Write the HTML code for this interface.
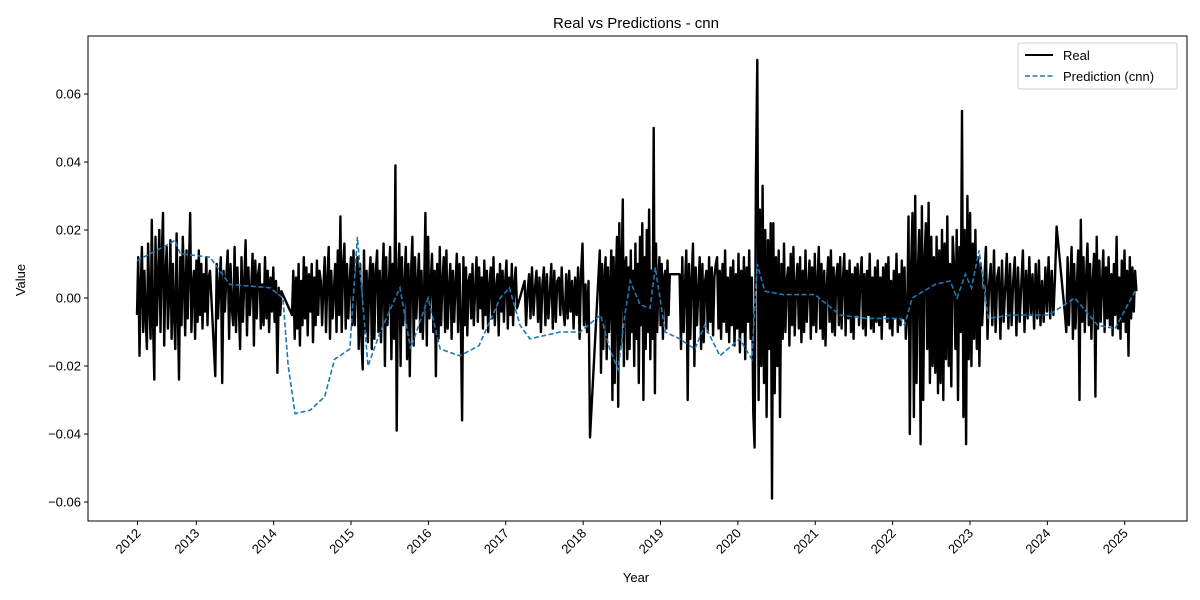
<!DOCTYPE html>
<html><head><meta charset="utf-8"><style>
body{margin:0;background:#fff;}
svg{display:block;font-family:"Liberation Sans","DejaVu Sans",sans-serif;}
</style></head><body>
<svg id="chart" width="1200" height="600" xmlns="http://www.w3.org/2000/svg">
<rect width="1200" height="600" fill="#fff"/>
<text x="636" y="28" font-size="15" text-anchor="middle">Real vs Predictions - cnn</text>
<g id="plot"></g>
<rect x="88" y="36" width="1099" height="485" fill="none" stroke="#000" stroke-width="1"/>
<g id="axes"></g>
<text x="25" y="280" font-size="13" text-anchor="middle" transform="rotate(-90 25 280)">Value</text>
<text x="636" y="582" font-size="13" text-anchor="middle">Year</text>
<g>
<rect x="1018" y="43" width="159" height="46" fill="#fff" stroke="#ccc" rx="2"/>
<line x1="1025" y1="55" x2="1053" y2="55" stroke="#000" stroke-width="2"/>
<text x="1063" y="60" font-size="13">Real</text>
<line x1="1025" y1="76" x2="1053" y2="76" stroke="#1f77b4" stroke-width="1.6" stroke-dasharray="5,2.5"/>
<text x="1063" y="81" font-size="13">Prediction (cnn)</text>
</g>
</svg>
<script>
const yTicks=[-0.06,-0.04,-0.02,0.00,0.02,0.04,0.06];
const yTickLabels=["−0.06","−0.04","−0.02","0.00","0.02","0.04","0.06"];
const xTickDates=[2012.24,2013,2014,2015,2016,2017,2018,2019,2020,2021,2022,2023,2024,2025];
const xTickLabels=["2012","2013","2014","2015","2016","2017","2018","2019","2020","2021","2022","2023","2024","2025"];
const segStarts=[2012.0,2013.03,2014.04,2017.1,2018.09,2019.14,2023.17,2024.21];
const segEnds=[2012.96,2013.92,2017.0,2017.96,2019.01,2023.12,2024.1,2025.15];
const seg1=[-5,12,-17,3,15,-10,8,-6,-15,16,-2,-12,23,-8,-24,18,-8,5,20,-10,12,25,-14,6,15,-9,2,17,-12,10,-5,-15,19,-3,-24,12,-8,18,4,-11,14,-6,9,25,-10,3,8,-12,11,-7,14,-5,10,-9,7,-4,12,-8,6,8];
const seg2=[-23,10,-6,4,12,-25,8,-4,6,14,-12,10,-3,-8,15,-10,9,-2,-15,12,-7,5,17,-11,9,-5,3,13,-14,11,-6,7,10,-9,4,-8,12,-6,8,-10,6,-4,9,-7,5,-22,3,-5,2,1];
const seg3=[-5,8,-12,6,-9,10,-14,5,-8,12,-6,9,-11,7,-4,10,-13,6,-8,11,-5,8,5,-8,3,12,-10,6,15,-12,8,-6,2,10,-10,14,-5,24,-10,9,16,-9,10,-6,4,12,-8,14,-8,5,12,-15,10,-12,-21,14,-10,8,-13,5,12,-15,10,-12,7,14,-10,8,-13,5,16,-20,12,-8,3,15,-18,10,-12,39,-39,6,16,-20,12,-8,3,15,-18,10,-23,8,18,-14,12,-6,4,13,-10,8,-12,2,25,-14,18,-6,4,13,-10,8,-23,10,-12,15,-8,5,12,-10,14,-9,3,10,-12,8,-7,4,13,-10,10,-6,-36,12,-8,9,-11,5,7,-6,10,-8,2,12,-7,9,-3,6,-9,11,-5,8,-10,4,9,-6,12,-8,3,7,-11,10,-4,8,-7,5,11,-9,6,-5,10,-8,4,9,-3];
const seg4=[5,-8,2,7,-6,9,-5,3,8,-7,6,-10,4,9,-8,7,-6,2,10,-9,8,-7,5,6,-5,9,-3,-8,7,-6,8,-4,5,-9,6,-5,9,-12,7,16,-8,4,-10,5,-41];
const seg5=[14,-22,10,-15,5,12,-18,9,-10,3,14,-30,12,-25,6,18,-32,22,-15,8,29,-20,10,12,-18,9,-15,14,-10,8,-20,16,-12,10,-25,18,-8,22,-30,12,-15,20,-10,26,-18,8,-12,50,-28,16,-10,4,12,-8,10,-12,6,8,-9,11,-5,7];
const seg6=[7,-15,12,-10,4,14,-30,10,-12,6,16,-20,9,-8,3,12,-15,10,-13,5,8,-10,12,-7,9,-11,6,10,12,-9,8,-12,10,-7,14,-10,6,-13,9,-8,11,-14,7,-9,13,-16,8,-10,12,-18,9,-7,14,-12,6,-34,-44,35,70,-30,26,-20,33,-25,20,-35,17,-15,22,-59,22,-28,12,-20,14,-35,10,-12,16,-10,5,9,-14,13,-8,15,-11,4,10,-9,12,-13,8,-10,14,-7,3,11,-12,9,-8,13,-10,5,15,-9,10,-12,8,-14,4,12,-7,14,-10,9,-11,6,10,-8,12,-9,5,13,-11,8,-6,11,-10,7,-12,9,-5,10,-8,6,12,-9,7,-11,8,-5,13,-9,6,-10,9,-7,11,-8,6,-12,9,-5,10,-7,12,-9,5,-11,8,-6,13,-10,7,-8,11,-6,9,-12,-5,24,-40,10,25,-35,30,-25,8,20,-43,27,-30,12,22,-15,28,-25,18,-20,12,-22,18,-28,14,-25,20,-30,16,-18,24,-20,10,-26,18,10,-15,20,-30,15,-10,55,-35,20,-43,30,-18,25,-20,16,-12,20,-15,12,-20,10,-8];
const seg7=[15,-12,4,10,-8,14,-10,6,9,-12,11,-7,3,13,-9,10,-8,5,12,-11,9,-7,4,14,-10,8,-6,12,-5,7,-9,10,-6,11,-8,5,-7,9,-4,12,-6,8,-5,6,21];
const seg8=[-5,-10,12,-8,5,15,-12,10,-9,4,14,-30,23,-7,12,-10,6,16,-8,10,-12,5,13,-29,18,-9,11,-7,4,14,-10,9,-6,12,-8,7,-11,10,-5,18,-9,6,-12,11,-7,14,-10,8,-17,12,-6,9,-4,8,2];
const realSegments=[seg1,seg2,seg3,seg4,seg5,seg6,seg7,seg8];
const predT=[2012.0,2012.43,2012.5,2012.57,2012.96,2013.22,2013.75,2013.92,2013.99,2014.08,2014.28,2014.47,2014.6,2014.67,2014.8,2014.9,2015.04,2015.2,2015.46,2015.6,2015.83,2015.99,2016.25,2016.5,2016.78,2016.9,2017.04,2017.17,2017.57,2017.83,2018.1,2018.22,2018.33,2018.42,2018.49,2018.62,2018.75,2018.82,2018.95,2019.14,2019.34,2019.47,2019.67,2019.93,2020.09,2020.16,2020.26,2020.5,2020.92,2021.25,2021.6,2022.04,2022.1,2022.2,2022.5,2022.7,2022.79,2022.9,2022.98,2023.08,2023.2,2023.5,2024.0,2024.34,2024.64,2024.87,2025.13];
const predV=[0.011,0.016,0.017,0.013,0.012,0.004,0.003,0.000,-0.020,-0.034,-0.033,-0.029,-0.018,-0.017,-0.015,0.018,-0.020,-0.010,0.003,-0.015,0.000,-0.015,-0.017,-0.014,0.000,0.003,-0.008,-0.012,-0.010,-0.010,-0.005,-0.015,-0.021,-0.005,0.005,-0.002,-0.003,0.009,-0.010,-0.012,-0.015,-0.008,-0.017,-0.012,-0.018,0.010,0.002,0.001,0.001,-0.005,-0.006,-0.006,-0.008,0.000,0.004,0.005,0.000,0.007,0.003,0.014,-0.006,-0.005,-0.005,0.000,-0.008,-0.009,0.002];

const NS="http://www.w3.org/2000/svg";
// data times are on the sample-index clock; tick dates are calendar years
function xs(t){return 137+(t-2012)*76;}
function xTick(y){return 196.3+(y-2013)*77.37;}
function ys(v){return 298-v*3400;}
const axes=document.getElementById('axes');
const plot=document.getElementById('plot');
function mk(tag,attrs,parent){const e=document.createElementNS(NS,tag);for(const k in attrs)e.setAttribute(k,attrs[k]);parent.appendChild(e);return e;}
yTicks.forEach((v,i)=>{
  const l=mk('line',{x1:84,x2:88,y1:ys(v),y2:ys(v),stroke:'#000'},axes);
  
  
  const t=mk('text',{x:81,y:ys(v)+4.5,'font-size':13,'text-anchor':'end'},axes);
  
  
  t.textContent=yTickLabels[i];
});
xTickDates.forEach((d,i)=>{
  const x=xTick(d);
  const l=mk('line',{x1:x,x2:x,y1:521,y2:525,stroke:'#000'},axes);
  
  
  const t=mk('text',{x:x+4,y:534,'font-size':13,'text-anchor':'end',transform:`rotate(-45 ${x+4} 534)`},axes);
  
  
  t.textContent=xTickLabels[i];
});
let pts=[];
realSegments.forEach((seg,s)=>{
  const a=segStarts[s],b=segEnds[s];
  seg.forEach((v,i)=>{const t=a+(b-a)*i/(seg.length-1);pts.push(xs(t).toFixed(1)+','+ys(v/1000).toFixed(1));});
});
const real=mk('polyline',{points:pts.join(' '),fill:'none',stroke:'#000','stroke-width':2.4,'stroke-linejoin':'round'},plot);


const pp=predT.map((t,i)=>xs(t).toFixed(1)+','+ys(predV[i]).toFixed(1)).join(' ');
const pred=mk('polyline',{points:pp,fill:'none',stroke:'#1f77b4','stroke-width':1.6,'stroke-dasharray':'5,2.5'},plot);


</script>
</body></html>
